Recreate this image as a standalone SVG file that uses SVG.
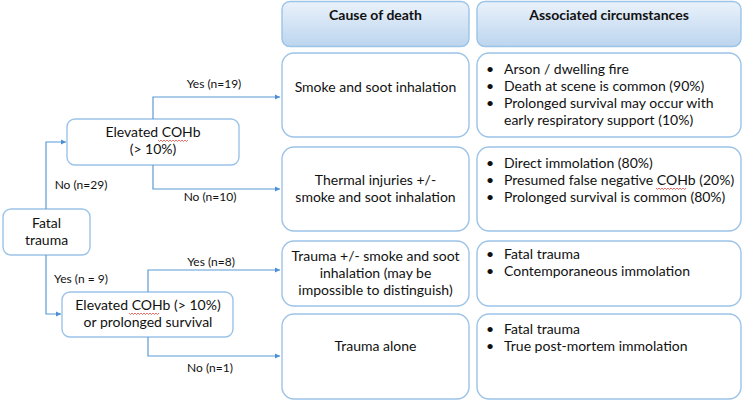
<svg xmlns="http://www.w3.org/2000/svg" width="744" height="401" viewBox="0 0 744 401">
<defs>
<linearGradient id="hg" x1="0" y1="0" x2="0" y2="1">
<stop offset="0" stop-color="#eaf2fb"/>
<stop offset="1" stop-color="#bcd5ee"/>
</linearGradient>
<marker id="ar" markerWidth="6" markerHeight="6" refX="5" refY="3" orient="auto" markerUnits="userSpaceOnUse">
<path d="M0,0.5 L5,3 L0,5.5 Z" fill="#4a8fd6"/>
</marker>
<path id="sq" d="M0,0 l1.5,1.5 l1.5,-1.5 l1.5,1.5 l1.5,-1.5 l1.5,1.5 l1.5,-1.5 l1.5,1.5 l1.5,-1.5 l1.5,1.5 l1.5,-1.5 l1.5,1.5 l1.5,-1.5 l1.5,1.5 l1.5,-1.5 l1.5,1.5 l1.5,-1.5 l1.5,1.5 l1.5,-1.5 l1.5,1.5 l1.5,-1.5"/>
</defs>
<style>
text{font-family:Lato,"Liberation Sans",sans-serif;font-size:14px;fill:#111}
.c{text-anchor:middle}
.b{font-weight:bold}
.l{font-size:12px}
.box{fill:#fff;stroke:#9cc3e8;stroke-width:1.4}
.hdr{fill:url(#hg);stroke:#9cc3e8;stroke-width:1.4}
.cn{fill:none;stroke:#5b9bd5;stroke-width:1.2;marker-end:url(#ar)}
.sq{fill:none;stroke:#e03030;stroke-width:0.7}
</style>
<rect width="744" height="401" fill="#fff"/>
<g id="hdr-cause"><rect class="hdr" x="282" y="1.5" width="187" height="45" rx="8"/><text class="c b" x="375.5" y="20">Cause of death</text></g>
<g id="hdr-assoc"><rect class="hdr" x="477" y="1.5" width="264" height="45" rx="8"/><text class="c b" x="609" y="20">Associated circumstances</text></g>

<g id="cause1"><rect class="box" x="282" y="53" width="187" height="84" rx="12"/><text class="c" x="375.5" y="92">Smoke and soot inhalation</text></g>
<g id="assoc1"><rect class="box" x="477" y="53" width="264" height="84" rx="12"/>
<text x="486" y="74">•</text><text x="504" y="74">Arson / dwelling fire</text>
<text x="486" y="91">•</text><text x="504" y="91">Death at scene is common (90%)</text>
<text x="486" y="108">•</text><text x="504" y="108">Prolonged survival may occur with</text>
<text x="504" y="125">early respiratory support (10%)</text></g>

<g id="cause2"><rect class="box" x="282" y="147" width="187" height="84" rx="12"/><text class="c" x="375.5" y="185">Thermal injuries +/-</text><text class="c" x="375.5" y="202">smoke and soot inhalation</text></g>
<g id="assoc2"><rect class="box" x="477" y="147" width="264" height="84" rx="12"/>
<text x="486" y="168">•</text><text x="504" y="168">Direct immolation (80%)</text>
<text x="486" y="185">•</text><text x="504" y="185">Presumed false negative COHb (20%)</text>
<text x="486" y="202">•</text><text x="504" y="202">Prolonged survival is common (80%)</text></g>

<g id="cause3"><rect class="box" x="282" y="241" width="187" height="65" rx="12"/><text class="c" x="375.5" y="261">Trauma +/- smoke and soot</text><text class="c" x="375.5" y="278">inhalation (may be</text><text class="c" x="375.5" y="295">impossible to distinguish)</text></g>
<g id="assoc3"><rect class="box" x="477" y="241" width="264" height="65" rx="12"/>
<text x="486" y="259">•</text><text x="504" y="259">Fatal trauma</text>
<text x="486" y="276">•</text><text x="504" y="276">Contemporaneous immolation</text></g>

<g id="cause4"><rect class="box" x="282" y="314" width="187" height="85" rx="12"/><text class="c" x="375.5" y="351">Trauma alone</text></g>
<g id="assoc4"><rect class="box" x="477" y="314" width="264" height="85" rx="12"/>
<text x="486" y="334">•</text><text x="504" y="334">Fatal trauma</text>
<text x="486" y="351">•</text><text x="504" y="351">True post-mortem immolation</text></g>

<g id="elevated"><rect class="box" x="67" y="119" width="172" height="46" rx="8"/><text class="c" x="153" y="137">Elevated COHb</text><text class="c" x="153" y="154">(&gt; 10%)</text></g>
<g id="fatal"><rect class="box" x="3" y="209" width="87" height="46" rx="8"/><text class="c" x="46.5" y="228">Fatal</text><text class="c" x="46.5" y="245">trauma</text></g>
<g id="elevated2"><rect class="box" x="62" y="292" width="171" height="45" rx="8"/><text class="c" x="148" y="310">Elevated COHb (&gt; 10%)</text><text class="c" x="148" y="327">or prolonged survival</text></g>

<g id="spell">
<use href="#sq" class="sq" x="158" y="140"/>
<use href="#sq" class="sq" x="656" y="188"/>
<use href="#sq" class="sq" x="129" y="313"/>
</g>

<g id="connectors">
<path class="cn" d="M153,119 V97 H280"/>
<path class="cn" d="M153,165 V189 H280"/>
<path class="cn" d="M46,209 V142 H66"/>
<path class="cn" d="M46,255 V314 H61"/>
<path class="cn" d="M148,292 V270 H280"/>
<path class="cn" d="M148,337 V356 H280"/>
<text class="c l" x="214" y="88">Yes (n=19)</text>
<text class="c l" x="210" y="201">No (n=10)</text>
<text class="c l" x="81" y="189">No (n=29)</text>
<text class="c l" x="81" y="283">Yes (n = 9)</text>
<text class="c l" x="211" y="266">Yes (n=8)</text>
<text class="c l" x="210" y="372">No (n=1)</text>
</g>
</svg>
